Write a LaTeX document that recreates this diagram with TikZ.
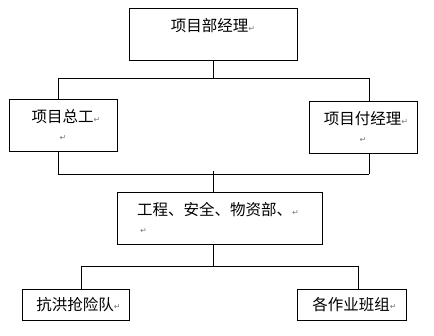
\documentclass[tikz,border=0pt]{standalone}
\usepackage{xcolor}
\usepackage{fontspec}
\usepackage{tikz}
\usetikzlibrary{positioning,calc}
\setmainfont{Noto Sans CJK SC}
\newfontfamily\symfont{DejaVu Sans}
\definecolor{MarkGray}{HTML}{7A7A7A}
\newcommand{\retmark}{{\symfont\fontsize{8}{8}\selectfont\color{MarkGray}\raisebox{0.5pt}{↵}}}

\begin{document}
\begin{tikzpicture}[x=1pt, y=-1pt,
  box/.style={draw=black, line width=0.8pt, inner sep=0pt, font=\fontsize{15.5}{18}\selectfont},
  tall/.style={box, minimum height=52pt},
  low/.style={box, minimum height=31pt},
  wire/.style={line width=0.8pt}]
\useasboundingbox (0,0) rectangle (434,335);
\node[tall, minimum width=168pt, align=center] (pm) at (213,34) {项目部经理\retmark\\\mbox{}};
\node[tall, minimum width=108pt, align=center] (chief) at (63,125) {\hspace*{6pt}项目总工\retmark\\\retmark};
\node[tall, minimum width=108pt, align=center] (deputy) at (363,127) {\hspace*{6pt}项目付经理\retmark\\\retmark};
\node[tall, minimum width=205pt, text width=165pt, align=left] (dept) at (219.5,218) {工程、安全、物资部、\retmark\\\hspace*{3pt}\retmark};
\node[low, minimum width=107pt, align=center] (flood) at (75.5,304.5) {\hspace*{6pt}抗洪抢险队\retmark};
\node[low, minimum width=109pt, align=center] (teams) at (351.5,304.5) {\hspace*{6pt}各作业班组\retmark};

% upper bar
\coordinate (b1l) at (58,78);
\coordinate (b1r) at (369,78);
\draw[wire] (pm.south) -- (pm.south |- b1l);
\draw[wire] (b1l) -- (b1r);
\draw[wire] (b1l) -- (b1l |- chief.north);
\draw[wire] (b1r) -- (b1r |- deputy.north);
% middle bar
\coordinate (b2l) at (58,174);
\coordinate (b2r) at (369,174);
\coordinate (tick) at (213,171);
\draw[wire] (b2l) -- (b2r);
\draw[wire] (b2l) -- (b2l |- chief.south);
\draw[wire] (b2r) -- (b2r |- deputy.south);
\draw[wire] (tick) -- (tick |- dept.north);
% lower bar
\coordinate (b3l) at (81,266);
\coordinate (b3r) at (358,266);
\draw[wire] (tick |- dept.south) -- (tick |- b3l);
\draw[wire] (b3l) -- (b3r);
\draw[wire] (b3l) -- (b3l |- flood.north);
\draw[wire] (b3r) -- (b3r |- teams.north);
\end{tikzpicture}
\end{document}
